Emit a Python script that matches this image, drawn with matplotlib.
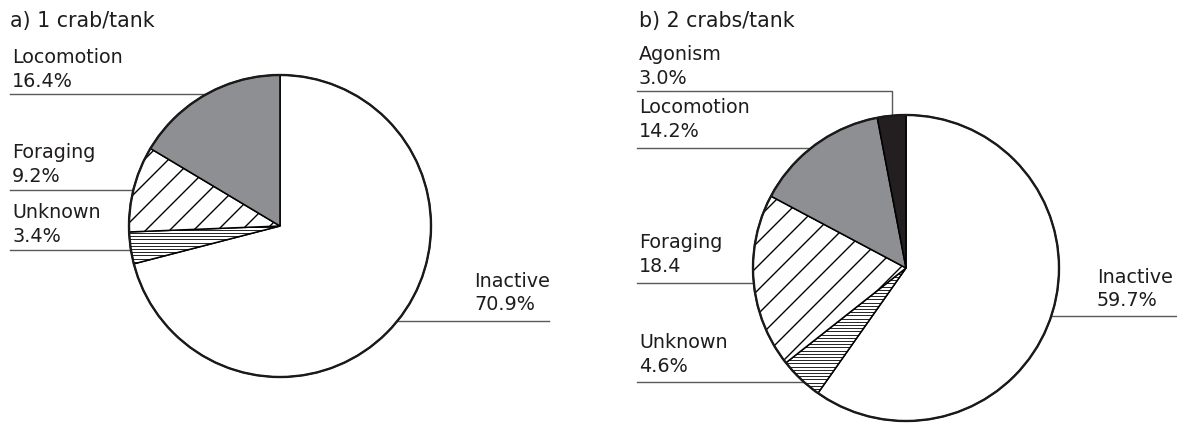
"""
Crab activity budgets: pie charts for 1 vs 2 crabs per tank
"""

import numpy as np
import matplotlib.pyplot as plt
from matplotlib.patches import Circle

# ── data ──────────────────────────────────────────────────────
LABELS_A = ["Inactive", "Unknown", "Foraging", "Locomotion"]
VALUES_A = [70.9, 3.4, 9.2, 16.4]
TEXT_A = ["70.9%", "3.4%", "9.2%", "16.4%"]

LABELS_B = ["Inactive", "Unknown", "Foraging", "Locomotion", "Agonism"]
VALUES_B = [59.7, 4.6, 18.4, 14.2, 3.0]
TEXT_B = ["59.7%", "4.6%", "18.4", "14.2%", "3.0%"]

FILL = {"Inactive": "white", "Unknown": "white", "Foraging": "white",
        "Locomotion": "#8e8f92", "Agonism": "#231f20"}
HATCH = {"Unknown": ("-", 3.2, 0.6), "Foraging": ("/", 24.0, 1.0)}

W, H = 1177, 428
TXT = "#1f1c1d"
LINE = "#58595b"
FS_LABEL = 13.8
FS_TITLE = 14.8

plt.rcParams["font.family"] = "DejaVu Sans"

fig = plt.figure(figsize=(W / 100, H / 100), dpi=100)
ax = fig.add_axes([0, 0, 1, 1])


def py(y):
    # pixel row (from top) -> data y
    return H - y


def hatch_wedge(wedge, kind, step, lw, cx, cy, r):
    if kind == "/":
        for c in np.arange(-2 * r - 2 * step, 2 * r + 2 * step, step):
            xs = np.array([cx - r, cx + r])
            ln, = ax.plot(xs, cy + (xs - cx) + c, color="black", lw=lw, zorder=3)
            ln.set_clip_path(wedge)
    else:
        for yy in np.arange(cy - r, cy + r, step):
            ln, = ax.plot([cx - r, cx + r], [yy, yy], color="black", lw=lw, zorder=3)
            ln.set_clip_path(wedge)


def draw_pie(labels, values, cx, cy_px, r):
    cy = py(cy_px)
    wedges, _ = ax.pie(values, center=(cx, cy), radius=r, startangle=90,
                       counterclock=False, colors=[FILL[l] for l in labels],
                       wedgeprops=dict(edgecolor="black", linewidth=1.1),
                       frame=True)
    for w, l in zip(wedges, labels):
        w.set_zorder(2)
        if l in HATCH:
            kind, step, lw = HATCH[l]
            hatch_wedge(w, kind, step, lw, cx, cy, r)
    ax.add_patch(Circle((cx, cy), r, fill=False, edgecolor="#1a1a1a",
                        linewidth=1.7, zorder=5))
    return {l: w for l, w in zip(labels, wedges)}


def edge_x(cx, cy_px, r, y_px, side):
    dx = np.sqrt(max(r ** 2 - (y_px - cy_px) ** 2, 0))
    return cx - dx if side == "left" else cx + dx


def label(x, base1, line_y, name, pct, x0, x1):
    ax.text(x, py(base1), name, fontsize=FS_LABEL, color=TXT, va="baseline")
    ax.text(x, py(base1 + 23.5), pct, fontsize=FS_LABEL, color=TXT, va="baseline")
    ax.plot([x0, x1], [py(line_y), py(line_y)], color=LINE, lw=1.0, zorder=1)


# ── a) 1 crab/tank ────────────────────────────────────────────
CXA, CYA, RA = 280, 226, 151
draw_pie(LABELS_A, VALUES_A, CXA, CYA, RA)
ax.text(10, py(27), "a) 1 crab/tank", fontsize=FS_TITLE, color=TXT, va="baseline")

for name, base, ly in [("Locomotion", 63, 94), ("Foraging", 158, 190),
                       ("Unknown", 218, 250)]:
    i = LABELS_A.index(name)
    label(12, base, ly, name, TEXT_A[i], 10, edge_x(CXA, CYA, RA, ly, "left"))
label(474, 287, 321, "Inactive", TEXT_A[0], edge_x(CXA, CYA, RA, 321, "right") - 2 * np.sqrt(RA ** 2 - (321 - CYA) ** 2), 549)

# ── b) 2 crabs/tank ───────────────────────────────────────────
CXB, CYB, RB = 906, 268, 153
wb = draw_pie(LABELS_B, VALUES_B, CXB, CYB, RB)
ax.text(639, py(27), "b) 2 crabs/tank", fontsize=FS_TITLE, color=TXT, va="baseline")

for name, base, ly in [("Locomotion", 113, 148), ("Foraging", 248, 283),
                       ("Unknown", 348, 382)]:
    i = LABELS_B.index(name)
    label(639, base, ly, name, TEXT_B[i], 637, edge_x(CXB, CYB, RB, ly, "left"))

# Agonism: elbow line down to the wedge
ag = wb["Agonism"]
mid = np.deg2rad((ag.theta1 + ag.theta2) / 2)
ag_x = CXB + RB * np.cos(mid)
ag_y = CYB - RB * np.sin(mid)
ax.text(639, py(60), "Agonism", fontsize=FS_LABEL, color=TXT, va="baseline")
ax.text(639, py(83.5), TEXT_B[4], fontsize=FS_LABEL, color=TXT, va="baseline")
ax.plot([637, ag_x, ag_x], [py(91), py(91), py(ag_y)], color=LINE, lw=1.0, zorder=1)

label(1097, 283, 316, "Inactive", TEXT_B[0],
      edge_x(CXB, CYB, RB, 316, "right"), 1177)

ax.set_xlim(0, W)
ax.set_ylim(0, H)
ax.set_aspect("auto")
ax.axis("off")

fig.savefig("out.png", dpi=100)
